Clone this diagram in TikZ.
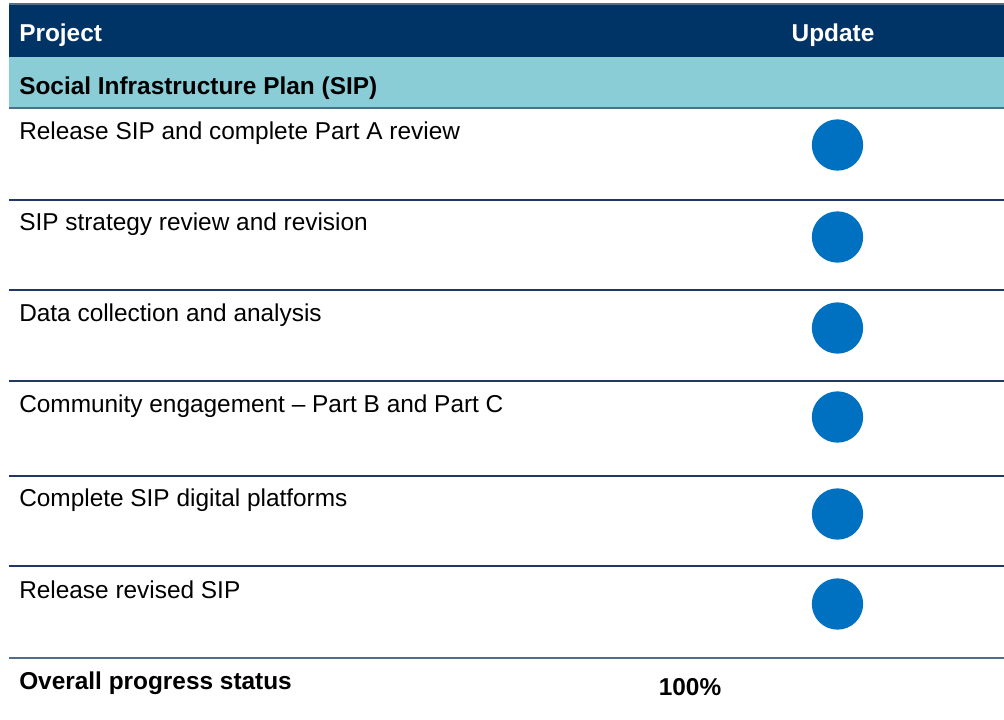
\documentclass[tikz,border=0pt]{standalone}
\usepackage{fontspec}
\setmainfont{Liberation Sans}
\definecolor{navy}{RGB}{0,51,102}
\definecolor{band}{RGB}{138,205,215}
\definecolor{dot}{RGB}{0,112,192}
\definecolor{rule}{RGB}{31,56,100}
\definecolor{slate}{RGB}{80,110,140}
\tikzset{
  txt/.style={anchor=base west, inner sep=0pt, font=\fontsize{18.3}{21}\selectfont},
  btxt/.style={txt, font=\fontsize{18.3}{21}\selectfont\bfseries},
  dotmark/.style={circle, fill=dot, minimum size=38.5pt, inner sep=0pt},
  sep/.style={rule, line width=1pt},
}
\begin{document}
\begin{tikzpicture}[x=0.75pt,y=-0.75pt]
\useasboundingbox (0,0) rectangle (1004,720);
% header
\fill[navy] (9,4) rectangle (1004,57);
\draw[slate, line width=1pt] (9,4) -- (1004,4);
\fill[band] (9,57) rectangle (1004,108);
\draw[slate, line width=1.5pt] (9,108) -- (1004,108);
\node[btxt, text=white] (hproj) at (19,42) {Project};
\node[btxt, text=white, anchor=base] (hupd) at (833,42) {Update};
\node[btxt] (sip) at (19,95) {Social Infrastructure Plan (SIP)};
% rows
\foreach \y in {200,290,381,476,566} \draw[sep] (9,\y) -- (1004,\y);
\draw[slate, line width=1.5pt] (9,658) -- (1004,658);
\node[txt] (r1) at (19,140) {Release SIP and complete Part A review};
\node[txt] (r2) at (19,231) {SIP strategy review and revision};
\node[txt] (r3) at (19,322) {Data collection and analysis};
\node[txt] (r4) at (19,413) {Community engagement – Part B and Part C};
\node[txt] (r5) at (19,507) {Complete SIP digital platforms};
\node[txt] (r6) at (19,598) {Release revised SIP};
\node[dotmark] (d1) at (837.5,145) {};
\node[dotmark] (d2) at (837.5,237) {};
\node[dotmark] (d3) at (837.5,328) {};
\node[dotmark] (d4) at (837.5,417) {};
\node[dotmark] (d5) at (837.5,514) {};
\node[dotmark] (d6) at (837.5,604) {};
\node[btxt] (ov) at (19,689) {Overall progress status};
\node[btxt, anchor=base] (pct) at (690,695) {100\%};
\end{tikzpicture}
\end{document}
